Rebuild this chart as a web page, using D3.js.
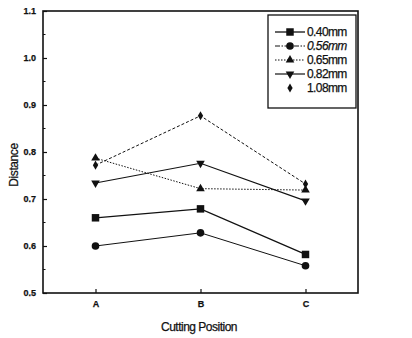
<!DOCTYPE html>
<html>
<head>
<meta charset="utf-8">
<script src="https://cdn.jsdelivr.net/npm/d3@7"></script>
<style>
  html, body { margin: 0; padding: 0; background: #fff; }
  svg { display: block; }
  text { font-family: "Liberation Sans", Arial, sans-serif; fill: #111; stroke: #111; stroke-width: 0.25px; }
</style>
</head>
<body>
<svg id="chart" width="412" height="338"></svg>
<script>
// Cutting positions along the x axis
const positions = ["A", "B", "C"];

// Distance values per blade thickness
const s040 = [0.660, 0.679, 0.582];
const s056 = [0.600, 0.628, 0.558];
const s065 = [0.787, 0.722, 0.719];
const s082 = [0.734, 0.776, 0.696];
const s108 = [0.772, 0.877, 0.732];

const seriesNames = ["0.40mm", "0.56mm", "0.65mm", "0.82mm", "1.08mm"];
const yTicks = [0.5, 0.6, 0.7, 0.8, 0.9, 1.0, 1.1];

const series = [
  { name: seriesNames[0], values: s040, symbol: d3.symbolSquare, size: 56, dash: null, width: 1.3, legendLine: true, italic: false },
  { name: seriesNames[1], values: s056, symbol: d3.symbolCircle, size: 46, dash: null, width: 1.0, legendDash: "5,1.5,1.5,1.5", legendLine: true, italic: true },
  { name: seriesNames[2], values: s065, symbol: d3.symbolTriangle, size: 32, dash: "1.5,1.5", width: 1.0, legendLine: true, italic: false },
  { name: seriesNames[3], values: s082, symbol: d3.symbolTriangle, size: 32, dash: null, width: 1.2, legendLine: true, flip: true, italic: false },
  { name: seriesNames[4], values: s108, symbol: d3.symbolDiamond, size: 24, dash: "3,2", width: 1.0, legendLine: false, italic: false }
];

const svg = d3.select("#chart");
const m = { left: 43, right: 358, top: 11, bottom: 293 };

const x = d3.scaleLinear().domain([0.5, 3.5]).range([m.left, m.right]);
const y = d3.scaleLinear().domain([0.5, 1.1]).range([m.bottom, m.top]);

// Frame
svg.append("rect")
  .attr("x", m.left).attr("y", m.top)
  .attr("width", m.right - m.left).attr("height", m.bottom - m.top)
  .attr("fill", "none").attr("stroke", "#111").attr("stroke-width", 1.6);

// Left axis: major ticks with labels, minor ticks between, pointing inward
const yAxis = d3.axisLeft(y).tickValues(yTicks).tickFormat(d3.format(".1f")).tickSizeInner(-4).tickSizeOuter(0).tickPadding(7);
const ga = svg.append("g").attr("transform", `translate(${m.left},0)`).call(yAxis);
ga.select(".domain").remove();
ga.selectAll("line").attr("stroke", "#111").attr("stroke-width", 1.2);
ga.selectAll("text").style("font-size", "9px").style("font-weight", "bold").style("font-family", "'Liberation Sans', Arial, sans-serif");

const minor = d3.range(0.55, 1.1, 0.1);
svg.append("g").selectAll("line").data(minor).join("line")
  .attr("x1", m.left).attr("x2", m.left + 2.5)
  .attr("y1", d => y(d)).attr("y2", d => y(d))
  .attr("stroke", "#111").attr("stroke-width", 1);

// Bottom axis
const xAxis = d3.axisBottom(x).tickValues([1, 2, 3]).tickFormat(d => positions[d - 1]).tickSizeInner(-4).tickSizeOuter(0).tickPadding(8);
const gx = svg.append("g").attr("transform", `translate(0,${m.bottom})`).call(xAxis);
gx.select(".domain").remove();
gx.selectAll("line").attr("stroke", "#111").attr("stroke-width", 1.2);
gx.selectAll("text").style("font-size", "9px").style("font-weight", "bold").style("font-family", "'Liberation Sans', Arial, sans-serif");

// Axis titles
svg.append("text")
  .attr("x", 199).attr("y", 331)
  .attr("text-anchor", "middle")
  .style("font-size", "12px")
  .style("letter-spacing", "-0.5px")
  .text("Cutting Position");

svg.append("text")
  .attr("transform", "translate(18,165) rotate(-90)")
  .attr("text-anchor", "middle")
  .style("font-size", "12px")
  .style("letter-spacing", "-0.4px")
  .text("Distance");

// Series lines and markers
const line = d3.line().x((d, i) => x(i + 1)).y(d => y(d));

series.forEach(s => {
  svg.append("path")
    .datum(s.values)
    .attr("d", line)
    .attr("fill", "none")
    .attr("stroke", "#111")
    .attr("stroke-width", s.width)
    .attr("stroke-dasharray", s.dash);

  svg.append("g").selectAll("path").data(s.values).join("path")
    .attr("d", d3.symbol().type(s.symbol).size(s.size))
    .attr("transform", (d, i) => `translate(${x(i + 1)},${y(d)})${s.flip ? " rotate(180)" : ""}`)
    .attr("fill", "#111");
});

// Legend
const lg = { x: 268, y: 15, w: 88, h: 93 };
svg.append("rect")
  .attr("x", lg.x).attr("y", lg.y).attr("width", lg.w).attr("height", lg.h)
  .attr("fill", "#fff").attr("stroke", "#111").attr("stroke-width", 1.3);

series.forEach((s, i) => {
  const cy = 32 + i * 14;
  if (s.legendLine) {
    svg.append("line")
      .attr("x1", 275).attr("x2", 305).attr("y1", cy).attr("y2", cy)
      .attr("stroke", "#111").attr("stroke-width", s.width)
      .attr("stroke-dasharray", s.legendDash || s.dash);
  }
  svg.append("path")
    .attr("d", d3.symbol().type(s.symbol).size(s.size))
    .attr("transform", `translate(290,${cy})${s.flip ? " rotate(180)" : ""}`)
    .attr("fill", "#111");
  svg.append("text")
    .attr("x", 307).attr("y", cy + 4)
    .style("font-size", "12px")
    .style("font-style", s.italic ? "italic" : "normal")
    .style("letter-spacing", "-0.6px")
    .text(s.name);
});
</script>
</body>
</html>
